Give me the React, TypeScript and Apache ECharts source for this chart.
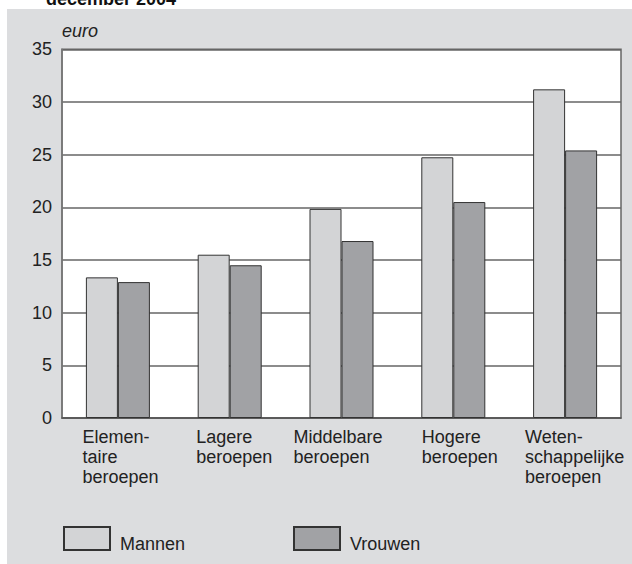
import React, { useEffect, useRef } from "react";
import * as echarts from "echarts";

const categories = [
  "Elemen-\ntaire\nberoepen",
  "Lagere\nberoepen",
  "Middelbare\nberoepen",
  "Hogere\nberoepen",
  "Weten-\nschappelijke\nberoepen",
];
const mannen = [13.35, 15.5, 19.85, 24.75, 31.2];
const vrouwen = [12.9, 14.5, 16.8, 20.5, 25.4];
const seriesNames = ["Mannen", "Vrouwen"];
const yTicks = { min: 0, max: 35, interval: 5 };
const titleText = "december 2004";
const unitText = "euro";

const FONT = "'Liberation Sans', Arial, Helvetica, sans-serif";
const labelWidths = [71, 67, 96, 63, 80];

export default function App() {
  const ref = useRef<HTMLDivElement>(null);
  useEffect(() => {
    if (!ref.current) return;
    const chart = echarts.init(ref.current, undefined, { renderer: "svg" });
    const rich: Record<string, any> = {};
    labelWidths.forEach((w, i) => {
      rich["c" + i] = {
        width: w,
        align: "left",
        fontSize: 18,
        lineHeight: 20,
        color: "#222",
        fontFamily: FONT,
      };
    });
    const legendText = {
      fontSize: 18,
      color: "#222",
      fontFamily: FONT,
      rich: {
        t: {
          fontSize: 18,
          color: "#222",
          fontFamily: FONT,
          padding: [10, 0, 0, 5],
        },
      },
    };
    const barBorder = { borderColor: "#333", borderWidth: 1 };
    chart.setOption({
      animation: false,
      backgroundColor: "#fff",
      textStyle: { fontFamily: FONT },
      title: {
        text: titleText,
        left: 46,
        top: -10,
        padding: 0,
        textStyle: { fontSize: 18, fontWeight: "bold", color: "#111", fontFamily: FONT },
      },
      graphic: [
        {
          type: "rect",
          z: -10,
          silent: true,
          shape: { x: 7, y: 9, width: 625, height: 555 },
          style: { fill: "#dcdddf" },
        },
      ],
      legend: [
        {
          data: [seriesNames[0]],
          left: 63,
          top: 526,
          padding: 0,
          itemWidth: 46,
          itemHeight: 23,
          icon: "rect",
          formatter: (n: string) => `{t|${n}}`,
          textStyle: legendText,
        },
        {
          data: [seriesNames[1]],
          left: 293,
          top: 526,
          padding: 0,
          itemWidth: 46,
          itemHeight: 23,
          icon: "rect",
          formatter: (n: string) => `{t|${n}}`,
          textStyle: legendText,
        },
      ],
      grid: {
        left: 62,
        right: 11,
        top: 49.3,
        bottom: 146,
        show: true,
        backgroundColor: "#fff",
        borderColor: "#666",
        borderWidth: 1.5,
      },
      xAxis: {
        type: "category",
        data: categories,
        axisTick: { show: false },
        axisLine: { lineStyle: { color: "#555", width: 1.5 } },
        axisLabel: {
          interval: 0,
          margin: 9,
          align: "center",
          verticalAlign: "top",
          formatter: (value: string, idx: number) =>
            value
              .split("\n")
              .map((l) => `{c${idx}|${l}}`)
              .join("\n"),
          rich,
        },
      },
      yAxis: {
        type: "value",
        min: yTicks.min,
        max: yTicks.max,
        interval: yTicks.interval,
        name: unitText,
        nameLocation: "end",
        nameGap: 9,
        nameTextStyle: {
          fontStyle: "italic",
          fontSize: 18,
          color: "#222",
          align: "left",
          verticalAlign: "bottom",
          fontFamily: FONT,
        },
        axisLine: { show: true, lineStyle: { color: "#777", width: 1.5 } },
        axisTick: { show: false },
        axisLabel: { fontSize: 18, color: "#222", margin: 10, fontFamily: FONT },
        splitLine: { lineStyle: { color: "#666", width: 1.5 } },
      },
      series: [
        {
          name: seriesNames[0],
          type: "bar",
          data: mannen,
          barWidth: 32,
          barGap: "0%",
          itemStyle: { color: "#d3d4d6", ...barBorder },
        },
        {
          name: seriesNames[1],
          type: "bar",
          data: vrouwen,
          barWidth: 32,
          barGap: "0%",
          itemStyle: { color: "#a1a2a5", ...barBorder },
        },
      ],
    });
    return () => chart.dispose();
  }, []);
  return (
    <div
      ref={ref}
      style={{ position: "fixed", left: 0, top: 0, width: 632, height: 564 }}
    />
  );
}
